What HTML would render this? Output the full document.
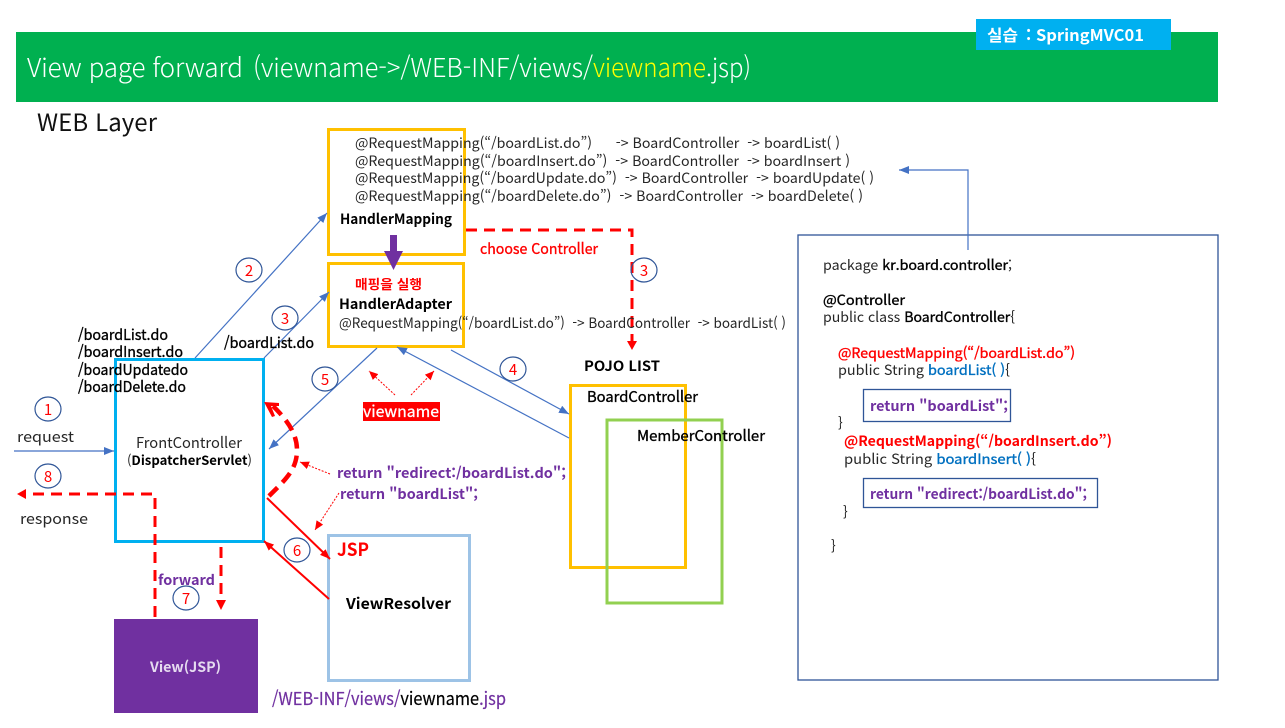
<!DOCTYPE html>
<html lang="ko">
<head>
<meta charset="utf-8">
<style>
html,body{margin:0;padding:0;background:#fff;width:1285px;height:728px;overflow:hidden}
svg{display:block}
text{font-family:"Noto Sans CJK KR","Liberation Sans",sans-serif;white-space:pre;fill:#262626;font-size:14px}
.b{font-weight:700}
.k{fill:#000}
.p{fill:#7030a0}
.r{fill:#f00}
.n{fill:#f00;font-size:15px;text-anchor:middle}
.bl{fill:#0070c0}
.fk{fill:#000;stroke:#000;stroke-width:.35;font-size:15px}
.fr{fill:#f00;stroke:#f00;stroke-width:.35}
.fb{fill:#0070c0;stroke:#0070c0;stroke-width:.35}
.t{font-size:26px;fill:#fff;font-weight:300}
</style>
</head>
<body>
<svg width="1285" height="728" viewBox="0 0 1285 728" xmlns="http://www.w3.org/2000/svg">
<defs>
<marker id="ab" markerUnits="userSpaceOnUse" markerWidth="11" markerHeight="10" refX="10" refY="4" orient="auto"><path d="M0 0L10 4L0 8z" fill="#4472c4"/></marker>
<marker id="ar" markerUnits="userSpaceOnUse" markerWidth="11" markerHeight="10" refX="10" refY="4" orient="auto"><path d="M0 0L10 4L0 8z" fill="#f00"/></marker>
<marker id="ars" markerUnits="userSpaceOnUse" markerWidth="10" markerHeight="10" refX="9" refY="4" orient="auto"><path d="M0 0L9 4L0 8z" fill="#f00"/></marker>
</defs>

<rect x="16" y="32" width="1202" height="70" fill="#00b050"/>
<text class="t" x="27" y="77" textLength="216" lengthAdjust="spacing">View page forward</text>
<text class="t" x="253" y="77" textLength="340" lengthAdjust="spacingAndGlyphs">(viewname-&gt;/WEB-INF/views/</text>
<text class="t" x="593" y="77" style="fill:#ffff00" textLength="113" lengthAdjust="spacingAndGlyphs">viewname</text>
<text class="t" x="706" y="77" textLength="45" lengthAdjust="spacingAndGlyphs">.jsp)</text>
<rect x="976" y="19" width="195" height="31" fill="#00b0f0"/>
<text class="b" x="987" y="41" style="font-size:16px;fill:#fff" textLength="31" lengthAdjust="spacingAndGlyphs">실습</text>
<text class="b" x="1026" y="41" style="font-size:16px;fill:#fff">:</text>
<text class="b" x="1036" y="41" style="font-size:16px;fill:#fff" textLength="108" lengthAdjust="spacingAndGlyphs">SpringMVC01</text>
<text x="37" y="131" style="font-size:24px;fill:#111" textLength="120" lengthAdjust="spacing">WEB Layer</text>

<!-- boxes -->
<rect x="328.500" y="129.500" width="136" height="125" fill="none" stroke="#ffc000" stroke-width="3"/>
<rect x="328.500" y="263.500" width="135" height="83" fill="none" stroke="#ffc000" stroke-width="3"/>
<rect x="115.500" y="359.500" width="148" height="182" fill="none" stroke="#00b0f0" stroke-width="3"/>
<rect x="328.500" y="535.500" width="141" height="145" fill="none" stroke="#9dc3e6" stroke-width="3"/>
<rect x="114" y="619" width="144" height="94" fill="#7030a0"/>
<rect x="570.500" y="385.500" width="115" height="182" fill="none" stroke="#ffc000" stroke-width="3"/>
<rect x="607" y="420" width="115" height="183" fill="none" stroke="#92d050" stroke-width="3"/>
<rect x="798" y="235" width="420" height="445" fill="none" stroke="#2f5597" stroke-width="1.300"/>
<rect x="863.500" y="389.500" width="147" height="32" fill="none" stroke="#2f5597" stroke-width="1.300"/>
<rect x="863.500" y="478.500" width="234" height="29" fill="none" stroke="#2f5597" stroke-width="1.300"/>

<!-- blue connectors -->
<g fill="none" stroke="#4472c4" stroke-width="1.200">
<line x1="14" y1="451" x2="114" y2="451" marker-end="url(#ab)"/>
<line x1="195" y1="358" x2="327" y2="213" marker-end="url(#ab)"/>
<line x1="264" y1="358" x2="329" y2="292" marker-end="url(#ab)"/>
<line x1="377" y1="348" x2="269" y2="449" marker-end="url(#ab)"/>
<line x1="451" y1="350" x2="569" y2="414" marker-end="url(#ab)"/>
<line x1="569" y1="438" x2="397" y2="347" marker-end="url(#ab)"/>
<polyline points="968,250 968,170 899,170" marker-end="url(#ab)"/>
</g>

<!-- red solid -->
<g fill="none" stroke="#f00" stroke-width="2">
<line x1="267" y1="498" x2="330" y2="559" marker-end="url(#ar)"/>
<line x1="329" y1="599" x2="264" y2="541" marker-end="url(#ar)"/>
</g>

<!-- red dashed -->
<g fill="none" stroke="#f00" stroke-width="3" stroke-dasharray="11 7">
<polyline points="466,230 632,230 632,342"/>
<polyline points="155,617 155,494 28,494"/>
<line x1="221" y1="547" x2="221" y2="600"/>
</g>
<path d="M627 341L637 341L632 350z" fill="#f00"/>
<path d="M17 494L26 489L26 499z" fill="#f00"/>
<path d="M216 600L226 600L221 610z" fill="#f00"/>
<path d="M269 496 C 285 480 297 470 297 450 C 297 432 285 418 273 406" fill="none" stroke="#f00" stroke-width="4.500" stroke-dasharray="12 7"/>
<path d="M264 402 L279 403 L279 406 L271 406 L275 416 L272 417z" fill="#f00"/>

<!-- purple arrow -->
<rect x="390" y="235" width="7" height="22" fill="#7030a0"/>
<path d="M384 251L403 251L393.500 270z" fill="#7030a0"/>

<!-- red dotted -->
<g fill="none" stroke="#f00" stroke-width="1" stroke-dasharray="2 1.500">
<line x1="395" y1="395" x2="369" y2="371" marker-end="url(#ars)"/>
<line x1="411" y1="395" x2="434" y2="371" marker-end="url(#ars)"/>
<line x1="330" y1="474" x2="300" y2="462" marker-end="url(#ars)"/>
<line x1="339" y1="493" x2="315" y2="530" marker-end="url(#ars)"/>
</g>

<!-- number circles -->
<g fill="none" stroke="#2f5597" stroke-width="1.200">
<ellipse cx="48" cy="409" rx="13" ry="12"/>
<ellipse cx="249" cy="270" rx="13" ry="12"/>
<ellipse cx="285" cy="318" rx="13" ry="12"/>
<ellipse cx="644" cy="270" rx="13" ry="12"/>
<ellipse cx="513" cy="369" rx="13" ry="12"/>
<ellipse cx="325" cy="379" rx="13" ry="12"/>
<ellipse cx="297" cy="550" rx="13" ry="12"/>
<ellipse cx="186" cy="598" rx="13" ry="12"/>
<ellipse cx="48" cy="476" rx="13" ry="12"/>
</g>
<text class="n" x="48" y="415">1</text>
<text class="n" x="249" y="276">2</text>
<text class="n" x="285" y="324">3</text>
<text class="n" x="644" y="276">3</text>
<text class="n" x="513" y="375">4</text>
<text class="n" x="325" y="385">5</text>
<text class="n" x="297" y="556">6</text>
<text class="n" x="186" y="604">7</text>
<text class="n" x="48" y="482">8</text>

<!-- mapping text -->
<text x="355" y="148" textLength="485" lengthAdjust="spacingAndGlyphs">@RequestMapping(“/boardList.do”)      -&gt; BoardController  -&gt; boardList( )</text>
<text x="355" y="166" textLength="495" lengthAdjust="spacingAndGlyphs">@RequestMapping(“/boardInsert.do”)  -&gt; BoardController  -&gt; boardInsert )</text>
<text x="355" y="183" textLength="519" lengthAdjust="spacingAndGlyphs">@RequestMapping(“/boardUpdate.do”)  -&gt; BoardController  -&gt; boardUpdate( )</text>
<text x="355" y="201" textLength="508" lengthAdjust="spacingAndGlyphs">@RequestMapping(“/boardDelete.do”)  -&gt; BoardController  -&gt; boardDelete( )</text>
<text class="b k" x="340" y="224" textLength="112" lengthAdjust="spacingAndGlyphs">HandlerMapping</text>
<text class="fr" x="480" y="254" style="font-size:15px" textLength="118" lengthAdjust="spacingAndGlyphs">choose Controller</text>
<text class="b r" x="355" y="289" style="font-size:13px" textLength="67" lengthAdjust="spacingAndGlyphs">매핑을 실행</text>
<text class="b k" x="339" y="309" textLength="113" lengthAdjust="spacingAndGlyphs">HandlerAdapter</text>
<text x="339" y="328" textLength="447" lengthAdjust="spacingAndGlyphs">@RequestMapping(“/boardList.do”)  -&gt; BoardController  -&gt; boardList( )</text>

<!-- urls -->
<text class="fk" x="78" y="340" textLength="90" lengthAdjust="spacingAndGlyphs">/boardList.do</text>
<text class="fk" x="78" y="357" textLength="105" lengthAdjust="spacingAndGlyphs">/boardInsert.do</text>
<text class="fk" x="78" y="375" textLength="110" lengthAdjust="spacingAndGlyphs">/boardUpdatedo</text>
<text class="fk" x="78" y="392" textLength="108" lengthAdjust="spacingAndGlyphs">/boardDelete.do</text>
<text class="fk" x="224" y="348" textLength="90" lengthAdjust="spacingAndGlyphs">/boardList.do</text>

<text x="17" y="442" style="font-size:15px" textLength="57" lengthAdjust="spacingAndGlyphs">request</text>
<text x="20" y="524" style="font-size:15px" textLength="68" lengthAdjust="spacingAndGlyphs">response</text>
<text x="136" y="448" style="font-size:15px" textLength="106" lengthAdjust="spacingAndGlyphs">FrontController</text>
<text x="127" y="465" style="font-size:13px" textLength="125" lengthAdjust="spacingAndGlyphs">(<tspan class="b k">DispatcherServlet</tspan>)</text>

<rect x="363" y="402" width="77" height="19" fill="#f00"/>
<text x="363" y="417" style="font-size:16px;fill:#fff;stroke:#fff;stroke-width:.3" textLength="76" lengthAdjust="spacingAndGlyphs">viewname</text>

<text class="b p" x="337" y="478" textLength="229" lengthAdjust="spacingAndGlyphs">return "redirect:/boardList.do";</text>
<text class="b p" x="340" y="499" textLength="138" lengthAdjust="spacingAndGlyphs">return "boardList";</text>

<text class="b r" x="337" y="556" style="font-size:18px" textLength="32" lengthAdjust="spacingAndGlyphs">JSP</text>
<text class="b k" x="346" y="609" style="font-size:15px" textLength="105" lengthAdjust="spacingAndGlyphs">ViewResolver</text>
<text class="b p" x="158" y="585" textLength="57" lengthAdjust="spacingAndGlyphs">forward</text>
<text class="b" x="150" y="672" style="font-size:14px;fill:#e6dcf0" textLength="71" lengthAdjust="spacingAndGlyphs">View(JSP)</text>
<text class="p" x="272" y="705" style="font-size:18px;stroke:#7030a0;stroke-width:.2" textLength="234" lengthAdjust="spacingAndGlyphs">/WEB-INF/views/<tspan fill="#000" stroke="#000">viewname</tspan>.jsp</text>

<text class="b k" x="584" y="371" textLength="76" lengthAdjust="spacingAndGlyphs">POJO LIST</text>
<text class="fk" x="587" y="402" textLength="111" lengthAdjust="spacingAndGlyphs">BoardController</text>
<text class="fk" x="637" y="441" textLength="128" lengthAdjust="spacingAndGlyphs">MemberController</text>

<!-- code -->
<text x="823" y="270" textLength="189" lengthAdjust="spacingAndGlyphs">package <tspan class="k" stroke="#000" stroke-width=".35">kr.board.controller</tspan>;</text>
<text class="fk" x="823" y="305" style="font-size:14px" textLength="82" lengthAdjust="spacingAndGlyphs">@Controller</text>
<text x="823" y="322" textLength="192" lengthAdjust="spacingAndGlyphs">public class <tspan class="k" stroke="#000" stroke-width=".35">BoardController</tspan>{</text>
<text class="fr" x="838" y="358" textLength="237" lengthAdjust="spacingAndGlyphs">@RequestMapping(“/boardList.do”)</text>
<text x="838" y="375" textLength="172" lengthAdjust="spacingAndGlyphs">public String <tspan class="bl" stroke="#0070c0" stroke-width=".35">boardList( )</tspan>{</text>
<text class="b p" x="870" y="411" textLength="138" lengthAdjust="spacingAndGlyphs">return "boardList";</text>
<text x="838" y="428">}</text>
<text class="r b" x="844" y="446" textLength="268" lengthAdjust="spacingAndGlyphs">@RequestMapping(“/boardInsert.do”)</text>
<text x="844" y="464" textLength="192" lengthAdjust="spacingAndGlyphs">public String <tspan class="bl" stroke="#0070c0" stroke-width=".35">boardInsert( )</tspan>{</text>
<text class="b p" x="870" y="499" textLength="217" lengthAdjust="spacingAndGlyphs">return "redirect:/boardList.do";</text>
<text x="843" y="517">}</text>
<text x="831" y="551">}</text>
</svg>
</body>
</html>
